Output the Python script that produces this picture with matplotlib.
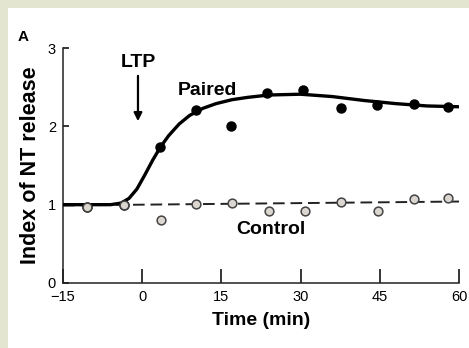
import matplotlib
matplotlib.use("Agg")
import matplotlib.pyplot as plt
from matplotlib.patches import Rectangle

plt.rcParams["font.family"] = ["Liberation Sans Narrow", "Liberation Sans", "DejaVu Sans"]

# paired (LTP) measurements
paired_t = [-10.5, -3.4, 3.3, 10.1, 16.8, 23.7, 30.4, 37.7, 44.5, 51.4, 58.0]
paired_y = [0.97, 1.0, 1.74, 2.21, 2.0, 2.42, 2.46, 2.23, 2.27, 2.29, 2.25]

# fitted curve through the paired data
curve_t = [-15, -6, -4, -2.5, -1, 0.5, 2, 3.5, 5, 7, 9, 11.5, 14, 17, 20, 24, 30, 36, 42, 48, 54, 60]
curve_y = [1.0, 1.0, 1.02, 1.08, 1.2, 1.38, 1.57, 1.74, 1.88, 2.03, 2.14, 2.23, 2.29, 2.34,
           2.37, 2.40, 2.41, 2.38, 2.33, 2.29, 2.26, 2.25]

# control measurements
control_t = [-10.5, -3.4, 3.5, 10.2, 17.1, 24.1, 30.8, 37.7, 44.7, 51.4, 58.0]
control_y = [0.97, 0.99, 0.80, 1.01, 1.02, 0.92, 0.92, 1.03, 0.92, 1.07, 1.08]

# control fit line
control_fit_t = [-15, 60]
control_fit_y = [0.99, 1.04]

x_ticks = [-15, 0, 15, 30, 45, 60]
y_ticks = [0, 1, 2, 3]

#########################################################

fig = plt.figure(figsize=(4.69, 3.48), dpi=100)
fig.patch.set_facecolor("#e3e5d0")
fig.patches.append(Rectangle((8 / 469, 0), 1, 1 - 8 / 348,
                             transform=fig.transFigure, facecolor="white",
                             edgecolor="none", zorder=-10))

ax = fig.add_axes([63 / 469, 1 - 283 / 348, 396 / 469, 235 / 348])
ax.set_facecolor("none")

ax.plot(curve_t, curve_y, color="black", lw=2.4, solid_capstyle="round",
        solid_joinstyle="round", zorder=3)
ax.plot(control_fit_t, control_fit_y, color="#222222", lw=1.4,
        dashes=(6, 3), zorder=2)

ax.plot(paired_t, paired_y, "o", color="black", markersize=6.5, zorder=4)
ax.plot(control_t, control_y, "o", markerfacecolor="#dcd6d0",
        markeredgecolor="#444444", markeredgewidth=1.1, markersize=6.3, zorder=5)

ax.set_xlim(-15, 60)
ax.set_ylim(0, 3)
ax.set_xticks(x_ticks)
ax.set_yticks(y_ticks)
ax.set_xticklabels(["\u221215", "0", "15", "30", "45", "60"])

for side in ["top", "right"]:
    ax.spines[side].set_visible(False)
for side in ["left", "bottom"]:
    ax.spines[side].set_linewidth(1.1)
    ax.spines[side].set_color("#222222")

ax.tick_params(axis="x", direction="in", length=10, width=1.1, labelsize=10.5, pad=5)
ax.tick_params(axis="y", direction="in", length=4, width=1.1, labelsize=10.5, pad=5)

ax.set_xlabel("Time (min)", fontsize=14, fontweight="bold", labelpad=6)
ax.set_ylabel("Index of NT release", fontsize=15.5, fontweight="bold", labelpad=5)

ax.text(12.3, 2.46, "Paired", fontsize=14, fontweight="bold", ha="center", va="center")
ax.text(24.3, 0.68, "Control", fontsize=14, fontweight="bold", ha="center", va="center")
ax.text(-0.8, 2.81, "LTP", fontsize=14, fontweight="bold", ha="center", va="center")
ax.annotate("", xy=(-0.8, 2.03), xytext=(-0.8, 2.68),
            arrowprops=dict(arrowstyle="-|>", color="black", lw=1.6,
                            mutation_scale=12))

fig.text(18 / 469, 1 - 37 / 348, "A", fontsize=11, fontweight="bold",
         ha="left", va="center")

fig.savefig("out.png", dpi=100, facecolor=fig.get_facecolor())
